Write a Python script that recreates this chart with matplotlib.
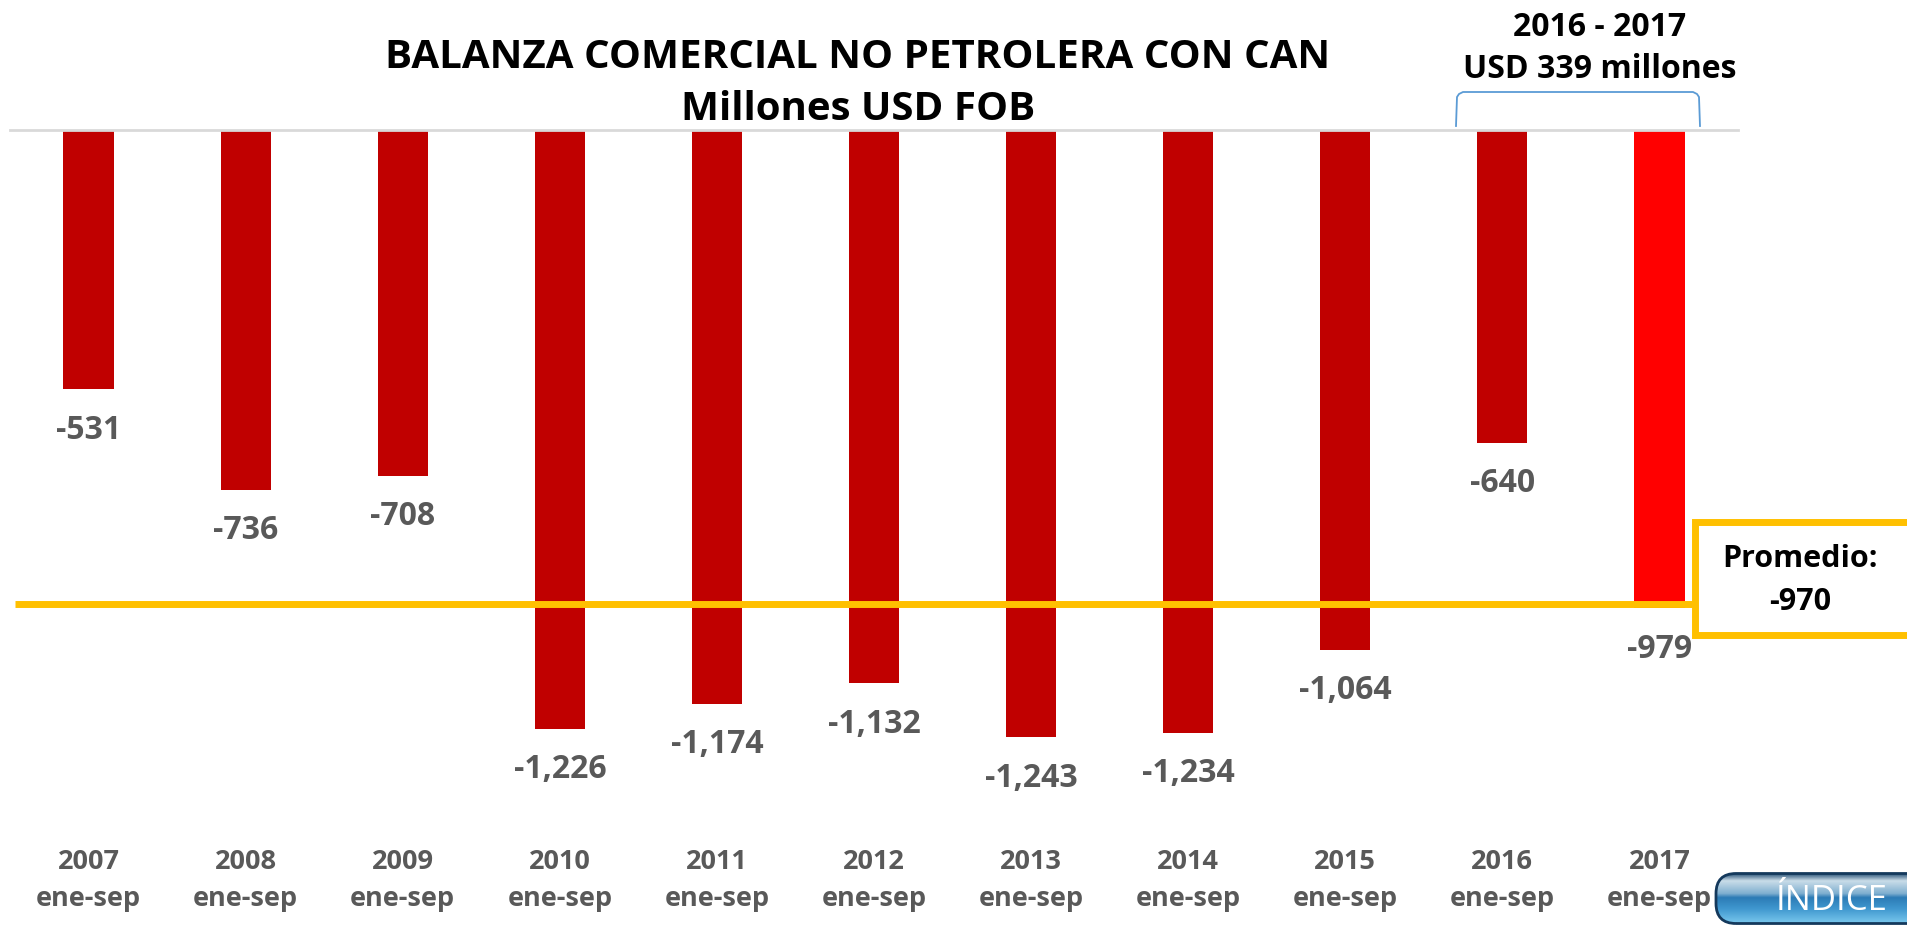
import matplotlib
matplotlib.use("Agg")
import matplotlib.pyplot as plt
import numpy as np
from matplotlib.patches import FancyBboxPatch, Rectangle
from matplotlib.lines import Line2D
from matplotlib.colors import LinearSegmentedColormap

years = ["2007", "2008", "2009", "2010", "2011", "2012", "2013", "2014", "2015", "2016", "2017"]
period = "ene-sep"
values = [-531, -736, -708, -1226, -1174, -1132, -1243, -1234, -1064, -640, -979]
average = -970
bar_colors = ["#C00000"] * 10 + ["#FF0000"]

FONT = "Open Sans"
W, H = 1908, 925
fig = plt.figure(figsize=(W / 100, H / 100), dpi=100)
fig.patch.set_facecolor("white")

def fx(px):
    return px / W

def fy(py):  # py measured from top
    return 1 - py / H

ax_left, ax_right, ax_top, ax_bottom = 10, 1738, 130, 814
ax = fig.add_axes([fx(ax_left), fy(ax_bottom), fx(ax_right - ax_left), (ax_bottom - ax_top) / H])
ax.set_xlim(-0.5, len(years) - 0.5)
ax.set_ylim(-1400, 0)
x = np.arange(len(years))
ax.bar(x, values, width=0.32, color=bar_colors, zorder=2)
for sp in ["left", "right", "bottom"]:
    ax.spines[sp].set_visible(False)
ax.spines["top"].set_color("#D9D9D9")
ax.spines["top"].set_linewidth(2)
ax.set_yticks([])
ax.tick_params(axis="x", length=0, pad=25)
ax.set_xticks(x)
ax.set_xticklabels([f"{y}\n{period}" for y in years], fontsize=19.5, fontweight="bold",
                   color="#595959", family=FONT, linespacing=1.55)

for xi, v in zip(x, values):
    ax.annotate(f"{v:,}", (xi, v), xytext=(0, -41), textcoords="offset pixels",
                ha="center", va="center", fontsize=23, fontweight="bold",
                color="#595959", family=FONT, annotation_clip=False, zorder=3)

# average line
ax.hlines(average, -0.47, 10.21, colors="#FFC000", linewidth=5, zorder=4, clip_on=False)

# Promedio box
box = Rectangle((fx(1695), fy(635)), fx(260), (635 - 522) / H, transform=fig.transFigure,
                facecolor="white", edgecolor="#FFC000", linewidth=5, zorder=2)
fig.patches.append(box)
fig.text(fx(1800), fy(559), "Promedio:", ha="center", va="center", fontsize=22,
         fontweight="bold", color="black", family=FONT, zorder=6)
fig.text(fx(1800), fy(602), f"{average:,}", ha="center", va="center", fontsize=22,
         fontweight="bold", color="black", family=FONT, zorder=6)

# Title
fig.text(fx(858), fy(57), "BALANZA COMERCIAL NO PETROLERA CON CAN", ha="center", va="center",
         fontsize=29, fontweight="bold", color="black", family=FONT)
fig.text(fx(858), fy(110), "Millones USD FOB", ha="center", va="center",
         fontsize=29, fontweight="bold", color="black", family=FONT)

# Top-right annotation
fig.text(fx(1600), fy(27), "2016 - 2017", ha="center", va="center",
         fontsize=23, fontweight="bold", color="black", family=FONT)
fig.text(fx(1600), fy(69), "USD 339 millones", ha="center", va="center",
         fontsize=23, fontweight="bold", color="black", family=FONT)
# bracket (open at the bottom)
bxs = [1456, 1457, 1459, 1463, 1693, 1697, 1699, 1700]
bys = [126, 97, 94, 92, 92, 94, 97, 126]
fig.add_artist(Line2D([fx(v) for v in bxs], [fy(v) for v in bys], transform=fig.transFigure,
                      color="#5B9BD5", linewidth=1.3))

# ÍNDICE button
bw = W - 1713
bh = 53
bax = fig.add_axes([fx(1713), 0, fx(bw), bh / H])
bax.set_xlim(0, bw)
bax.set_ylim(0, bh)
bax.axis("off")
cmap = LinearSegmentedColormap.from_list(
    "btn", [(0, "#7CCAEE"), (0.3, "#3F97CF"), (0.52, "#2C7BB5"), (0.6, "#7FAFD0"),
            (0.85, "#CADDE9"), (1.0, "#1F4A70")])
grad = np.linspace(0, 1, 200).reshape(-1, 1)
im = bax.imshow(grad, extent=[0, bw + 30, 1, bh - 1], aspect="auto", cmap=cmap, origin="lower",
                interpolation="bilinear")
clip = FancyBboxPatch((3, 1.5), bw + 30, bh - 3, boxstyle="round,pad=0,rounding_size=20",
                      transform=bax.transData, facecolor="none", edgecolor="#14395C", linewidth=2)
bax.add_patch(clip)
im.set_clip_path(clip)
bax.text(1832 - 1713, 24, "ÍNDICE", ha="center", va="center", fontsize=25, color="white",
         family=FONT)

fig.savefig("out.png", dpi=100, facecolor="white")
